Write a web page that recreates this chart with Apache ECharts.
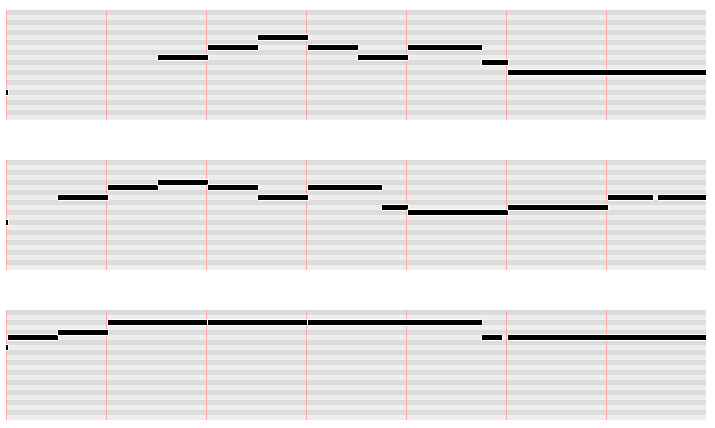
<!DOCTYPE html>
<html>
<head>
<meta charset="utf-8">
<script src="https://cdn.jsdelivr.net/npm/echarts@6/dist/echarts.min.js"></script>
<style>
html,body{margin:0;padding:0;background:#fff;}
#chart{width:715px;height:428px;}
</style>
</head>
<body>
<div id="chart"></div>
<script>
// Piano-roll data: note start (beats), note end (beats), MIDI pitch
const starts1 = [0, 1.52, 2.02, 2.52, 3.02, 3.52, 4.02, 4.76, 5.02];
const ends1   = [0.02, 2.02, 2.52, 3.02, 3.52, 4.02, 4.76, 5.02, 7.00];
const pitches1 = [65, 72, 74, 76, 74, 72, 74, 71, 69];

const starts2 = [0, 0.52, 1.02, 1.52, 2.02, 2.52, 3.02, 3.76, 4.02, 5.02, 6.02, 6.52];
const ends2   = [0.02, 1.02, 1.52, 2.02, 2.52, 3.02, 3.76, 4.02, 5.02, 6.02, 6.47, 7.00];
const pitches2 = [69, 74, 76, 77, 76, 74, 76, 72, 71, 72, 74, 74];

const starts3 = [0, 0.02, 0.52, 1.02, 2.02, 3.02, 4.76, 5.02];
const ends3   = [0.02, 0.52, 1.02, 2.02, 3.02, 4.76, 4.96, 7.00];
const pitches3 = [74, 76, 77, 79, 79, 79, 76, 76];

const beatMin = 0, beatMax = 7;
const pitchMin = 60, pitchMax = 82;

const panels = [
  {s: starts1, e: ends1, p: pitches1},
  {s: starts2, e: ends2, p: pitches2},
  {s: starts3, e: ends3, p: pitches3}
];
const tops = [10, 160, 310];

const chart = echarts.init(document.getElementById('chart'), null, {renderer: 'canvas'});

function renderNote(params, api) {
  const s = api.value(0), e = api.value(1), p = api.value(2);
  const a = api.coord([s, p + 1]);
  const b = api.coord([e, p]);
  return {
    type: 'rect',
    shape: {x: a[0] - 0.5, y: a[1] - 0.5, width: b[0] - a[0] + 1, height: b[1] - a[1] + 1},
    style: {fill: '#000', stroke: '#fff', lineWidth: 1}
  };
}

const option = {
  animation: false,
  backgroundColor: '#fff',
  grid: tops.map(t => ({left: 6, right: 9, top: t, height: 110})),
  xAxis: tops.map((t, i) => ({
    type: 'value', gridIndex: i, min: beatMin, max: beatMax, interval: 1,
    axisLine: {show: false}, axisTick: {show: false}, axisLabel: {show: false},
    splitLine: {show: true, showMaxLine: false, lineStyle: {color: '#ffa8a8', width: 1}}
  })),
  yAxis: tops.map((t, i) => ({
    type: 'value', gridIndex: i, min: pitchMin, max: pitchMax, interval: 1,
    axisLine: {show: false}, axisTick: {show: false}, axisLabel: {show: false},
    splitLine: {show: false},
    splitArea: {show: true, areaStyle: {color: ['#eeeeee', '#dcdcdc']}}
  })),
  series: panels.map((pn, i) => ({
    type: 'custom', xAxisIndex: i, yAxisIndex: i, clip: true,
    renderItem: renderNote,
    encode: {x: [0, 1], y: 2},
    data: pn.s.map((s, k) => [s, pn.e[k], pn.p[k]])
  }))
};
chart.setOption(option);
</script>
</body>
</html>
